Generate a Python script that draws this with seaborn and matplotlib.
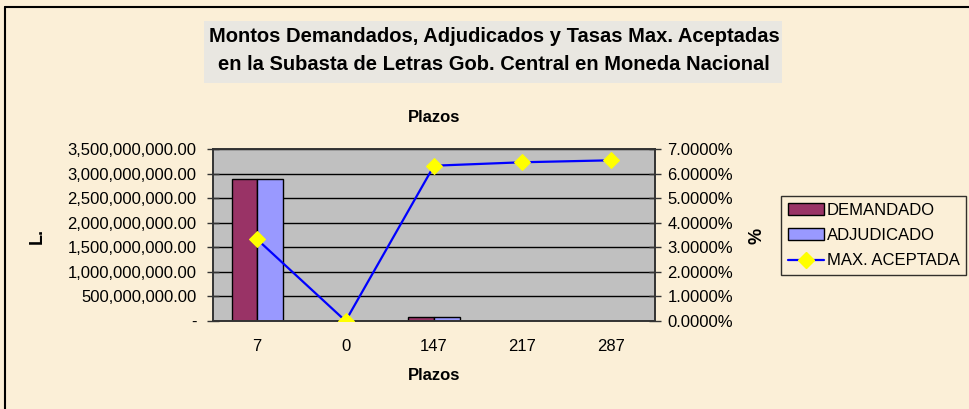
import numpy as np
import pandas as pd
import matplotlib
matplotlib.use('Agg')
import matplotlib.pyplot as plt
import matplotlib.ticker as mticker
from matplotlib.patches import Rectangle
from matplotlib.lines import Line2D
import seaborn as sns

plazos = ['7', '0', '147', '217', '287']
demandado = [2885000000, 0, 87000000, 8000000, 9000000]
adjudicado = [2885000000, 0, 80000000, 8000000, 9000000]
max_aceptada = [3.32, 0.0, 6.32, 6.46, 6.54]

df = pd.DataFrame({
    'Plazos': plazos * 2,
    'monto': demandado + adjudicado,
    'serie': ['DEMANDADO'] * 5 + ['ADJUDICADO'] * 5,
})

sns.set_style('white')
plt.rcParams['font.family'] = ['Liberation Sans', 'DejaVu Sans']
plt.rcParams['text.color'] = 'black'
plt.rcParams['xtick.color'] = 'black'
plt.rcParams['ytick.color'] = 'black'

fs = 12
bg = '#FBEFD7'
fig = plt.figure(figsize=(9.69, 4.09), dpi=100, facecolor=bg)
ax = fig.add_axes([213 / 969, 1 - 321 / 409, 442 / 969, 172 / 409])
ax.set_facecolor('#C0C0C0')

sns.barplot(data=df, x='Plazos', y='monto', hue='serie', order=plazos,
            palette={'DEMANDADO': '#993366', 'ADJUDICADO': '#9999FF'},
            saturation=1, width=0.58, edgecolor='black', linewidth=1,
            ax=ax, legend=False)

ax.set_ylim(0, 3.5e9)
ax.set_xlim(-0.5, 4.5)
ax.yaxis.set_major_locator(mticker.MultipleLocator(5e8))
ax.yaxis.set_major_formatter(mticker.FuncFormatter(
    lambda v, p: '-' if v == 0 else f'{v:,.2f}'))
ax.grid(axis='y', color='black', linewidth=1)
ax.set_axisbelow(True)
ax.set_xlabel('')
ax.set_ylabel('')

# category ticks sit between the groups, labels at the centers
ax.set_xticks(np.arange(-0.5, 5, 1))
ax.set_xticklabels([])
ax.set_xticks(np.arange(5), minor=True)
ax.set_xticklabels(plazos, minor=True)
ax.tick_params(axis='x', which='major', direction='inout', length=8, width=1, color='#333333')
ax.tick_params(axis='x', which='minor', length=0, pad=13, labelsize=fs)
ax.tick_params(axis='y', direction='inout', length=8, width=1, color='#333333', labelsize=fs, pad=8)
for s in ax.spines.values():
    s.set_color('#333333')
    s.set_linewidth(1.2)

ax2 = ax.twinx()
sns.lineplot(x=np.arange(5), y=max_aceptada, color='#0000FF', linewidth=1.6,
             marker='D', markersize=8.5, markerfacecolor='#FFFF00',
             markeredgecolor='#FFFF00', ax=ax2, zorder=5)
ax2.set_ylim(0, 7)
ax2.yaxis.set_major_locator(mticker.MultipleLocator(1))
ax2.yaxis.set_major_formatter(mticker.FuncFormatter(lambda v, p: f'{v:.4f}%'))
ax2.tick_params(axis='y', direction='inout', length=8, width=1, color='#333333', labelsize=fs, pad=5)
ax2.set_xlim(-0.5, 4.5)
for s in ax2.spines.values():
    s.set_color('#333333')
    s.set_linewidth(1.2)

# outer frame (left and top only visible)
fig.add_artist(Line2D([5 / 969, 5 / 969], [0, 1 - 7 / 409], color='black', linewidth=1.5))
fig.add_artist(Line2D([5 / 969, 1], [1 - 7 / 409, 1 - 7 / 409], color='black', linewidth=1.5))

# title box
fig.add_artist(Rectangle((204 / 969, 1 - 83 / 409), 578 / 969, 62 / 409,
                         facecolor='#E9E7E1', edgecolor='none'))
fig.text(494 / 969, 1 - 51 / 409,
         'Montos Demandados, Adjudicados y Tasas Max. Aceptadas\nen la Subasta de Letras Gob. Central en Moneda Nacional',
         ha='center', va='center', fontsize=14.5, fontweight='bold', linespacing=1.6)

fig.text(434 / 969, 1 - 118 / 409, 'Plazos', ha='center', va='center', fontsize=fs, fontweight='bold')
fig.text(434 / 969, 1 - 375 / 409, 'Plazos', ha='center', va='center', fontsize=fs, fontweight='bold')
fig.text(37 / 969, 1 - 236 / 409, 'L.', ha='center', va='center', fontsize=13, fontweight='bold', rotation=90)
fig.text(757 / 969, 1 - 236 / 409, '%', ha='center', va='center', fontsize=13, fontweight='bold', rotation=90)

handles = [
    Rectangle((0, 0), 1, 1, facecolor='#993366', edgecolor='black', linewidth=1),
    Rectangle((0, 0), 1, 1, facecolor='#9999FF', edgecolor='black', linewidth=1),
    Line2D([], [], color='#0000FF', linewidth=1.6, marker='D', markersize=8,
           markerfacecolor='#FFFF00', markeredgecolor='#FFFF00'),
]
leg = fig.legend(handles, ['DEMANDADO', 'ADJUDICADO', 'MAX. ACEPTADA'],
                 loc='upper left', bbox_to_anchor=(781 / 969, 1 - 196 / 409),
                 frameon=True, fancybox=False, fontsize=fs, handlelength=2.2,
                 handleheight=0.7, handletextpad=0.15, borderpad=0.4,
                 labelspacing=0.62, borderaxespad=0)
leg.get_frame().set_edgecolor('black')
leg.get_frame().set_facecolor('none')
leg.get_frame().set_linewidth(1)

fig.savefig('out.png', dpi=100, facecolor=bg)
